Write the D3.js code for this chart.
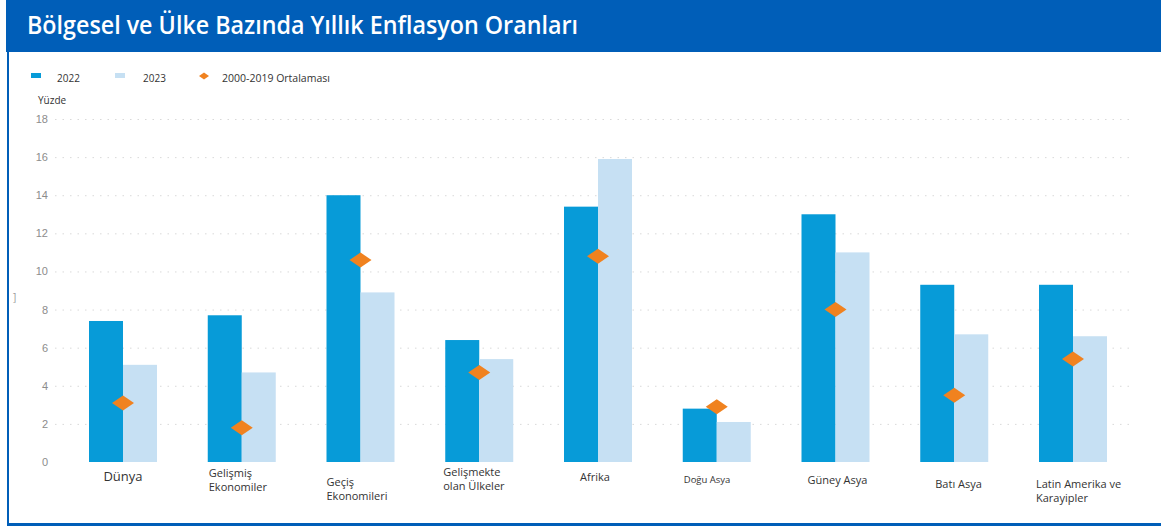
<!DOCTYPE html>
<html>
<head>
<meta charset="utf-8">
<script src="https://cdn.jsdelivr.net/npm/d3@7"></script>
<style>
  body { margin: 0; background: #fff; }
  svg { display: block; font-family: "Open Sans", sans-serif; }
  .grid line { stroke: #d9d9d9; stroke-dasharray: 1.5 6; }
  .grid text { fill: #8c8c8c; font-size: 11px; }
</style>
</head>
<body>
<div id="chart"></div>
<script>
// data
var categories = [
    ["Dünya"],
    ["Gelişmiş", "Ekonomiler"],
    ["Geçiş", "Ekonomileri"],
    ["Gelişmekte", "olan Ülkeler"],
    ["Afrika"],
    ["Doğu Asya"],
    ["Güney Asya"],
    ["Batı Asya"],
    ["Latin Amerika ve", "Karayipler"]
];
var values2022 = [7.4, 7.7, 14.0, 6.4, 13.4, 2.8, 13.0, 9.3, 9.3];
var values2023 = [5.1, 4.7, 8.9, 5.4, 15.9, 2.1, 11.0, 6.7, 6.6];
var avg2000_2019 = [3.1, 1.8, 10.6, 4.7, 10.8, 2.9, 8.0, 3.5, 5.4];
var yTicks = [0, 2, 4, 6, 8, 10, 12, 14, 16, 18];
var seriesNames = ["2022", "2023", "2000-2019 Ortalaması"];

var colors = { c2022: "#079bd8", c2023: "#c6e0f3", avg: "#f0821f", blue: "#005eb8" };

var W = 1161, H = 528;
var svg = d3.select("#chart").append("svg")
    .attr("width", W)
    .attr("height", H);

// frame + header
svg.append("rect").attr("x", 6).attr("y", 0).attr("width", W - 6).attr("height", 52).attr("fill", colors.blue);
svg.append("rect").attr("x", 7).attr("y", 52).attr("width", 2).attr("height", 474).attr("fill", colors.blue);
svg.append("rect").attr("x", 7).attr("y", 523).attr("width", W - 7).attr("height", 3).attr("fill", colors.blue);

svg.append("text")
    .attr("x", 27).attr("y", 34)
    .attr("fill", "#fff")
    .style("font-size", "25px")
    .style("font-weight", 600)
    .attr("textLength", 551)
    .attr("lengthAdjust", "spacingAndGlyphs")
    .text("Bölgesel ve Ülke Bazında Yıllık Enflasyon Oranları");

// scales
var y = d3.scaleLinear().domain([0, 18]).range([462, 119]);
var idx = categories.map(function(d, i) { return i; });
var x = d3.scalePoint().domain(idx).range([123, 1073]);
var barW = 34;

// grid + y labels
var grid = svg.append("g")
    .attr("class", "grid")
    .attr("transform", "translate(55,0)")
    .call(d3.axisLeft(y).tickValues(yTicks).tickSize(-(1130 - 55)).tickPadding(7).tickFormat(d3.format("d")));
grid.select(".domain").remove();
grid.selectAll(".tick").filter(function(d) { return d === 0; }).select("line").remove();

svg.append("text").attr("x", 38).attr("y", 104)
    .style("font-size", "10px").attr("fill", "#333").text("Yüzde");
svg.append("text").attr("x", 13).attr("y", 301)
    .style("font-size", "10px").attr("fill", "#999").text("]");

// bars
var g = svg.append("g");
g.selectAll(".b22").data(values2022).enter().append("rect")
    .attr("x", function(d, i) { return x(i) - barW; })
    .attr("y", function(d) { return y(d); })
    .attr("width", barW)
    .attr("height", function(d) { return y(0) - y(d); })
    .attr("fill", colors.c2022);

g.selectAll(".b23").data(values2023).enter().append("rect")
    .attr("x", function(d, i) { return x(i); })
    .attr("y", function(d) { return y(d); })
    .attr("width", barW)
    .attr("height", function(d) { return y(0) - y(d); })
    .attr("fill", colors.c2023);

g.selectAll(".avg").data(avg2000_2019).enter().append("path")
    .attr("d", "M-11,0L0,-7.5L11,0L0,7.5Z")
    .attr("transform", function(d, i) { return "translate(" + x(i) + "," + y(d) + ")"; })
    .attr("fill", colors.avg);

// category labels
var labelStyle = [
    { anchor: "middle", dx: 0, y: 481, size: 13 },
    { anchor: "start", dx: -barW + 1, y: 477, size: 11 },
    { anchor: "start", dx: -barW, y: 486, size: 11 },
    { anchor: "start", dx: -barW - 2, y: 476, size: 11 },
    { anchor: "middle", dx: -3, y: 481, size: 11 },
    { anchor: "start", dx: -barW + 1, y: 483, size: 9.5 },
    { anchor: "start", dx: -barW + 6, y: 484, size: 11 },
    { anchor: "start", dx: -barW + 15, y: 488, size: 11 },
    { anchor: "start", dx: -barW - 3, y: 488, size: 11 }
];
categories.forEach(function(lines, i) {
    var s = labelStyle[i];
    var t = svg.append("text")
        .attr("text-anchor", s.anchor)
        .attr("fill", "#333")
        .style("font-size", s.size + "px");
    lines.forEach(function(line, j) {
        t.append("tspan")
            .attr("x", x(i) + s.dx)
            .attr("y", s.y + j * 14)
            .text(line);
    });
});

// legend
var legend = svg.append("g");
legend.append("rect").attr("x", 31).attr("y", 73).attr("width", 10).attr("height", 5).attr("fill", colors.c2022);
legend.append("text").attr("x", 57).attr("y", 82).style("font-size", "10px").attr("fill", "#333").text(seriesNames[0]);
legend.append("rect").attr("x", 115).attr("y", 73).attr("width", 10).attr("height", 5).attr("fill", colors.c2023);
legend.append("text").attr("x", 143).attr("y", 82).style("font-size", "10px").attr("fill", "#333").text(seriesNames[1]);
legend.append("path").attr("d", "M-5,0L0,-3.5L5,0L0,3.5Z").attr("transform", "translate(204,76)").attr("fill", colors.avg);
legend.append("text").attr("x", 222).attr("y", 82).style("font-size", "10.5px").attr("fill", "#333").text(seriesNames[2]);
</script>
</body>
</html>
